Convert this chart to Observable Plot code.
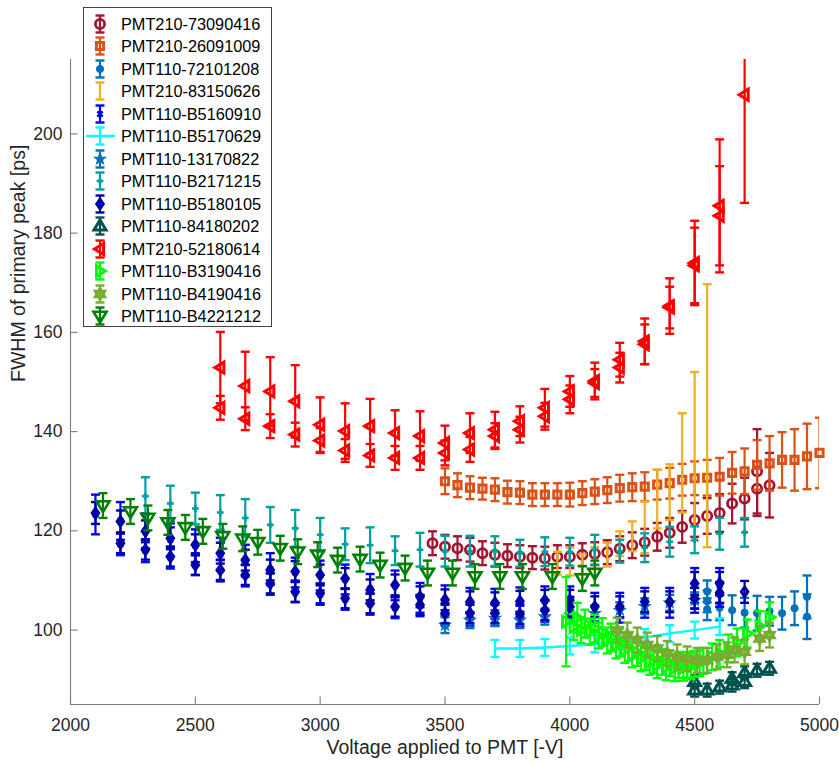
<!DOCTYPE html>
<html><head><meta charset="utf-8">
<script src="https://cdn.jsdelivr.net/npm/d3@7"></script>
<script src="https://cdn.jsdelivr.net/npm/@observablehq/plot@0.6"></script>
<style>
body{margin:0;background:#fff;}
#wrap{position:relative;width:839px;height:765px;font-family:"Liberation Sans",Arial,sans-serif;}
#legend{position:absolute;left:83px;top:7px;width:189px;height:320px;border:1px solid #444;background:#fff;box-sizing:border-box;}
.row{position:absolute;left:0;height:22px;width:187px;}
.row svg{position:absolute;left:0;top:0;}
.row span{position:absolute;left:37px;top:1px;font-size:16.3px;line-height:20px;color:#000;white-space:nowrap;}
</style></head>
<body><div id="wrap"><div id="legend"></div></div>
<script>
// ---------- data ----------
const names = ["PMT210-73090416","PMT210-26091009","PMT110-72101208","PMT210-83150626","PMT110-B5160910","PMT110-B5170629","PMT110-13170822","PMT110-B2171215","PMT110-B5180105","PMT110-84180202","PMT210-52180614","PMT110-B3190416","PMT110-B4190416","PMT110-B4221212"];
const xTicks = [2000,2500,3000,3500,4000,4500,5000];
const yTicks = [100,120,140,160,180,200];

const v_73090416 = [3450,3500,3550,3600,3650,3700,3750,3800,3850,3900,3950,4000,4050,4100,4150,4200,4250,4300,4350,4400,4450,4500,4550,4600,4650,4700,4750,4750,4800];
const y_73090416 = [117.5,116.8,116.5,116.2,115.5,115.2,115.0,114.8,114.6,114.5,114.8,114.8,115.2,115.4,115.7,116.4,117.1,117.7,118.8,119.6,120.8,122.2,123.0,123.6,125.5,126.5,128.5,132.0,129.2];
const e_73090416 = [2.4,2.4,2.4,2.4,2.4,2.4,2.3,2.3,2.3,2.3,2.3,2.3,2.3,2.3,2.4,2.5,2.6,2.7,2.8,3.0,3.2,3.4,3.6,3.8,4.0,4.2,5.5,8.5,6.5];

const v_26091009 = [3500,3550,3600,3650,3700,3750,3800,3850,3900,3950,4000,4050,4100,4150,4200,4250,4300,4350,4400,4450,4500,4550,4600,4650,4700,4750,4800,4850,4900,4950,5000];
const y_26091009 = [130.0,129.2,128.7,128.5,128.3,127.8,127.7,127.3,127.3,127.3,127.3,127.6,127.9,128.2,128.6,128.8,128.9,129.3,129.6,130.3,130.6,130.7,130.9,131.7,132.0,133.3,133.6,134.3,134.3,135.0,135.7];
const e_26091009 = [2.6,2.4,2.3,2.2,2.3,2.3,2.3,2.3,2.3,2.3,2.4,2.4,2.5,2.6,2.7,2.8,2.9,3.0,3.1,3.2,3.4,3.6,3.8,4.2,4.6,5.0,5.5,5.6,6.2,6.6,7.1];

const v_72101208 = [4550,4550,4550,4600,4650,4700,4750,4800,4850,4900,4950,4950];
const y_72101208 = [107.8,105.8,104.2,104.5,104.0,103.5,103.4,103.8,103.4,104.4,106.7,102.7];
const e_72101208 = [2.2,2.2,2.2,2.5,3.0,3.0,3.5,2.9,3.3,3.4,4.3,4.5];

const v_83150626 = [3950,4000,4050,4100,4150,4200,4250,4300,4350,4400,4450,4500,4550];
const y_83150626 = [113.5,113.8,113.3,114.5,115.2,117.4,118.9,120.7,126.4,127.8,133.7,135.0,143.2];
const e_83150626 = [2.3,2.8,2.0,2.2,2.4,2.5,3.0,5.2,5.9,5.6,10.0,17.0,26.5];

const v_B5160910 = [2100,2200,2200,2300,2300,2400,2400,2500,2500,2600,2600,2700,2700,2800,2800,2900,2900,3000,3000,3100,3100,3200,3200,3300,3300,3400,3400,3500,3500,3600,3600,3700,3700,3800,3800,3900,3900,4000,4000,4100,4200,4300,4400,4500,4500,4600,4600];
const y_B5160910 = [123.3,122.0,117.3,120.0,116.0,118.2,114.6,117.0,113.3,115.3,112.0,114.0,111.0,112.3,109.3,111.6,107.8,111.0,107.2,110.2,106.2,108.3,105.2,109.0,104.5,106.5,104.9,106.0,103.0,105.5,103.0,105.3,103.0,105.6,102.8,105.8,103.8,105.8,104.5,104.5,104.5,105.5,105.5,109.0,106.0,109.0,107.2];
const e_B5160910 = [4.0,3.8,2.2,3.5,2.3,3.3,2.2,3.3,2.2,3.3,2.2,3.2,2.2,3.2,2.2,3.0,2.2,3.0,2.1,3.0,2.1,3.0,2.1,3.0,2.1,3.0,2.1,3.0,2.1,3.0,2.1,3.0,2.1,3.0,2.1,3.0,2.1,3.0,2.1,3.0,3.0,3.0,3.0,3.5,2.5,3.5,2.5];

const v_B5170629 = [3700,3800,3900,4000,4100,4200,4300,4400,4500,4600];
const y_B5170629 = [96.3,96.3,96.5,96.8,97.2,97.8,98.5,99.3,100.0,100.7];
const e_B5170629 = [1.7,1.7,1.7,1.7,1.7,1.7,1.7,1.7,1.7,1.7];

const v_13170822 = [3500,3600,3700,3800,3900,4000,4100,4200,4300,4400,4500];
const y_13170822 = [101.0,102.0,102.4,102.0,102.7,103.0,103.4,104.0,104.8,105.5,106.0];
const e_13170822 = [1.6,1.6,1.6,1.6,1.6,1.6,1.6,1.6,1.6,1.6,1.6];

const v_B2171215 = [2300,2400,2500,2600,2700,2800,2900,3000,3100,3200,3300,3400,3500,3600,3700,3800,3900,4000,4100,4200,4300,4400,4500,4600,4700];
const y_B2171215 = [127.0,125.5,124.5,123.7,122.6,121.2,120.5,119.2,117.3,117.1,116.0,116.2,115.9,115.9,115.9,115.5,115.8,115.8,116.2,115.9,116.6,117.8,118.2,119.4,119.7];
const e_B2171215 = [3.8,3.6,3.2,3.5,3.8,3.6,3.7,3.4,3.2,3.6,2.9,3.4,3.1,3.1,3.0,2.7,2.9,2.8,3.0,2.3,2.9,3.0,2.7,3.2,2.9];

const v_B5180105 = [2100,2200,2200,2300,2300,2400,2400,2500,2500,2600,2600,2700,2700,2800,2800,2900,2900,3000,3000,3100,3100,3200,3200,3300,3300,3400,3400,3500,3500,3600,3600,3700,3700,3800,3800,3900,3900,4000,4000,4100,4200,4300,4400,4500,4500,4600,4600,4700];
const y_B5180105 = [123.6,121.9,117.5,119.9,116.2,118.5,114.8,117.2,113.1,115.5,112.1,114.1,111.1,112.1,109.4,111.8,107.7,111.1,107.4,110.4,106.4,108.1,105.4,109.1,104.7,106.7,105.1,106.1,103.4,105.7,103.4,105.5,103.4,105.8,103.2,106.0,104.0,106.0,104.7,104.7,104.7,105.7,105.7,109.4,106.4,109.4,107.5,107.7];
const e_B5180105 = [2.2,2.2,2.0,2.2,2.0,2.2,2.0,2.1,2.0,2.1,2.0,2.1,2.0,2.1,2.0,2.1,2.0,2.1,2.0,2.1,2.0,2.1,2.0,2.1,2.0,2.1,2.0,2.1,2.0,2.1,2.0,2.1,2.0,2.1,2.0,2.1,2.0,2.1,2.0,2.1,2.1,2.1,2.1,2.3,2.1,2.3,2.1,2.2];

const v_84180202 = [4500,4500,4550,4600,4650,4650,4700,4700,4750,4800];
const y_84180202 = [89.6,87.9,87.9,88.5,88.9,90.2,89.6,91.4,91.9,92.3];
const e_84180202 = [1.3,1.3,1.3,1.3,1.3,1.3,1.3,1.3,1.3,1.3];

const v_52180614 = [2600,2600,2700,2700,2800,2800,2900,2900,3000,3000,3100,3100,3200,3200,3300,3300,3400,3400,3500,3500,3600,3600,3700,3700,3800,3800,3900,3900,4000,4000,4100,4100,4200,4200,4300,4300,4400,4400,4500,4500,4600,4600,4700];
const y_52180614 = [152.9,144.8,149.2,142.6,148.1,141.1,146.1,139.4,141.4,138.2,140.1,136.2,141.1,135.2,139.7,134.7,139.1,134.7,137.7,135.7,139.7,136.4,140.4,139.1,142.1,140.4,144.8,143.1,148.1,146.5,150.2,149.8,154.5,152.9,158.2,157.6,165.3,165.0,174.0,173.5,185.5,183.5,207.9];
const e_52180614 = [7.2,2.4,6.9,2.3,6.9,2.4,7.3,2.4,5.5,2.5,5.6,2.3,5.5,2.3,4.6,2.4,5.0,2.4,3.5,2.5,4.0,2.5,3.6,2.6,3.0,2.6,3.8,2.7,3.1,2.8,3.7,2.8,3.4,3.0,4.6,4.0,5.6,4.2,8.5,7.6,13.4,10.0,21.8];

const v_B3190416 = [3985,4030,4060,4100,4130,4165,4200,4235,4270,4300,4335,4370,4400,4435,4470,4500,4535,4570,4600,4635,4670,4710,4760,4800,4015,4045,4080,4115,4150,4185,4220,4250,4285,4320,4350,4385,4420,4455,4485,4520];
const y_B3190416 = [101.7,102.5,101.3,100.3,99.6,98.5,97.5,96.5,95.5,94.7,94.0,93.6,93.3,93.0,93.0,93.2,93.8,94.6,95.3,96.3,97.5,99.3,100.8,102.6,100.6,100.0,99.7,98.9,97.9,96.9,96.0,95.1,94.3,93.6,92.9,92.5,92.3,92.4,92.7,93.3];
const e_B3190416 = [9.0,3.0,2.8,2.8,2.8,2.8,2.8,2.7,2.7,2.7,2.6,2.6,2.6,2.6,2.6,2.6,2.6,2.7,2.7,2.8,2.8,2.8,3.0,3.0,2.6,2.6,2.6,2.6,2.6,2.6,2.6,2.6,2.6,2.6,2.6,2.6,2.6,2.6,2.6,2.6];

const v_B4190416 = [4190,4230,4270,4310,4350,4390,4430,4470,4510,4550,4590,4630,4660,4700,4760,4800];
const y_B4190416 = [100.0,99.0,98.0,97.0,96.3,95.3,94.6,94.2,93.9,93.9,94.6,95.0,96.0,95.6,98.3,99.0];
const e_B4190416 = [2.5,2.5,2.5,2.5,2.5,2.5,2.5,2.5,2.5,2.5,2.5,2.5,2.5,2.5,2.5,2.5];

const v_B4221212 = [2130,2240,2310,2390,2460,2530,2610,2690,2750,2840,2910,2990,3070,3160,3240,3340,3430,3530,3620,3720,3810,3930,4050,4100];
const y_B4221212 = [125.1,123.9,122.6,121.7,120.7,119.9,118.9,118.4,117.7,116.5,115.8,115.2,114.1,114.3,113.1,112.5,111.5,111.5,110.8,110.8,110.8,110.8,110.4,111.5];
const e_B4221212 = [2.5,2.5,2.5,2.5,2.5,2.5,2.5,2.5,2.5,2.5,2.5,2.5,2.5,2.5,2.5,2.5,2.5,2.5,2.5,2.5,2.5,2.5,2.5,2.5];

// ---------- symbols ----------
const rad = s => Math.sqrt(s / Math.PI);
const capSym = {draw(c, s){const r = rad(s); c.moveTo(-r, 0); c.lineTo(r, 0);}};
const circ = {draw(c, s){const r = rad(s); c.moveTo(r, 0); c.arc(0, 0, r, 0, 2 * Math.PI);}};
const sq = {draw(c, s){const r = rad(s); c.rect(-r, -r, 2 * r, 2 * r);}};
const dia = {draw(c, s){const r = rad(s); c.moveTo(0, -r * 1.3); c.lineTo(r * 0.9, 0); c.lineTo(0, r * 1.3); c.lineTo(-r * 0.9, 0); c.closePath();}};
const plusS = {draw(c, s){const r = rad(s); c.moveTo(-r, 0); c.lineTo(r, 0); c.moveTo(0, -r); c.lineTo(0, r);}};
const timesS = {draw(c, s){const r = rad(s) * 0.75; c.moveTo(-r, -r); c.lineTo(r, r); c.moveTo(r, -r); c.lineTo(-r, r);}};
const starS = {draw(c, s){const R = rad(s), ri = R * 0.42; for (let i = 0; i < 10; i++){const a = -Math.PI / 2 + i * Math.PI / 5; const rr = i % 2 ? ri : R; const x = rr * Math.cos(a), y = rr * Math.sin(a); i ? c.lineTo(x, y) : c.moveTo(x, y);} c.closePath();}};
const hexS = {draw(c, s){const r = rad(s); c.moveTo(0, -r); c.lineTo(0.866 * r, 0.5 * r); c.lineTo(-0.866 * r, 0.5 * r); c.closePath(); c.moveTo(0, r); c.lineTo(0.866 * r, -0.5 * r); c.lineTo(-0.866 * r, -0.5 * r); c.closePath();}};
function tri(dir){return {draw(c, s){const r = rad(s), b = r * 0.65;
  if (dir === "l"){c.moveTo(-r, 0); c.lineTo(b, -r); c.lineTo(b, r);}
  else if (dir === "r"){c.moveTo(r, 0); c.lineTo(-b, -r); c.lineTo(-b, r);}
  else if (dir === "u"){c.moveTo(0, -r); c.lineTo(r, b); c.lineTo(-r, b);}
  else {c.moveTo(0, r); c.lineTo(r, -b); c.lineTo(-r, -b);}
  c.closePath();}};}

// ---------- series table ----------
const series = [
  {v: v_73090416, y: y_73090416, e: e_73090416, color: "#A2142F", sym: circ, r: 4.6, fill: "none", sw: 2.8},
  {v: v_26091009, y: y_26091009, e: e_26091009, color: "#D95319", sym: sq, r: 3.6, fill: "none", sw: 3},
  {v: v_72101208, y: y_72101208, e: e_72101208, color: "#0072BD", sym: circ, r: 3.6, fill: "#0072BD", sw: 1},
  {v: v_83150626, y: y_83150626, e: e_83150626, color: "#EDB120", sym: null},
  {v: v_B5160910, y: y_B5160910, e: e_B5160910, color: "#0000FF", sym: timesS, r: 3.6, fill: "none", sw: 2.4},
  {v: v_B5170629, y: y_B5170629, e: e_B5170629, color: "#00FFFF", sym: null, line: true},
  {v: v_13170822, y: y_13170822, e: e_13170822, color: "#0072BD", sym: starS, r: 5.8, fill: "#0072BD", sw: 1.2},
  {v: v_B2171215, y: y_B2171215, e: e_B2171215, color: "#00A0A0", sym: plusS, r: 3.4, fill: "none", sw: 2.6},
  {v: v_B5180105, y: y_B5180105, e: e_B5180105, color: "#0000A8", sym: dia, r: 3.6, fill: "none", sw: 3},
  {v: v_84180202, y: y_84180202, e: e_84180202, color: "#00524E", sym: tri("u"), r: 6, fill: "none", sw: 3},
  {v: v_52180614, y: y_52180614, e: e_52180614, color: "#FF0000", sym: tri("l"), r: 5.5, fill: "none", sw: 3},
  {v: v_B3190416, y: y_B3190416, e: e_B3190416, color: "#00FF00", sym: tri("r"), r: 5.5, fill: "none", sw: 2.8},
  {v: v_B4190416, y: y_B4190416, e: e_B4190416, color: "#77AC30", sym: hexS, r: 5.5, fill: "none", sw: 2.8},
  {v: v_B4221212, y: y_B4221212, e: e_B4221212, color: "#008000", sym: tri("d"), r: 6.5, fill: "none", sw: 2.6}
];

const axisColor = "#262626";
const marks = [];
series.forEach(s => {
  const rows = s.v.map((v, i) => ({v, y: s.y[i], lo: s.y[i] - s.e[i], hi: s.y[i] + s.e[i]}));
  if (s.line) marks.push(Plot.line(rows, {x: "v", y: "y", stroke: s.color, strokeWidth: 2.4}));
  marks.push(Plot.ruleX(rows, {x: "v", y1: "lo", y2: "hi", stroke: s.color, strokeWidth: 2.2, clip: true}));
  marks.push(Plot.dot(rows, {x: "v", y: "lo", symbol: capSym, r: 4.5, stroke: s.color, fill: "none", strokeWidth: 2.4, clip: true}));
  marks.push(Plot.dot(rows, {x: "v", y: "hi", symbol: capSym, r: 4.5, stroke: s.color, fill: "none", strokeWidth: 2.4, clip: true}));
  if (s.sym) marks.push(Plot.dot(rows, {x: "v", y: "y", symbol: s.sym, r: s.r, stroke: s.color, fill: s.fill, strokeWidth: s.sw}));
});

const W = 839, H = 765, mL = 70, mR = 20, mT = 59, mB = 61;
const fw = W - mL - mR, fh = H - mT - mB;

const chart = Plot.plot({
  width: W, height: H,
  marginLeft: mL, marginRight: mR, marginTop: mT, marginBottom: mB,
  style: {fontFamily: '"Liberation Sans", Arial, sans-serif', color: axisColor, background: "white"},
  x: {domain: [2000, 5000]},
  y: {domain: [85, 215]},
  marks: [
    ...marks,
    Plot.ruleX([2000], {stroke: "#7a7a7a", strokeWidth: 1.1}),
    Plot.ruleY([85], {stroke: "#7a7a7a", strokeWidth: 1.1}),
    Plot.tickX(xTicks, {x: d => d, insetTop: fh - 7.5, stroke: "#7a7a7a", strokeWidth: 1.1}),
    Plot.tickY(yTicks, {y: d => d, insetRight: fw - 7.5, stroke: "#7a7a7a", strokeWidth: 1.1}),
    Plot.axisX(xTicks, {tickSize: 0, tickPadding: 14, tickFormat: d => String(d), label: null, fontSize: 17.5}),
    Plot.axisY(yTicks, {tickSize: 0, tickPadding: 8, tickFormat: d => String(d), label: null, fontSize: 17.5}),
    Plot.text(["Voltage applied to PMT [-V]"], {text: d => d, frameAnchor: "bottom", dy: 49, fontSize: 19.5, fill: axisColor}),
    Plot.text(["FWHM of primary peak [ps]"], {text: d => d, frameAnchor: "left", dx: -52, rotate: -90, fontSize: 19.5, fill: axisColor})
  ]
});
document.getElementById("wrap").insertBefore(chart, document.getElementById("legend"));

// ---------- legend ----------
const legend = document.getElementById("legend");
series.forEach((s, i) => {
  const row = document.createElement("div");
  row.className = "row";
  row.style.top = (4.7 + 22.5 * i) + "px";
  const cx = 16, cy = 11;
  let svg = `<svg width="36" height="22" viewBox="0 0 36 22">`;
  if (s.line) svg += `<line x1="2" x2="31" y1="${cy}" y2="${cy}" stroke="${s.color}" stroke-width="2.4"/>`;
  svg += `<line x1="${cx}" x2="${cx}" y1="${cy - 8.5}" y2="${cy + 8.5}" stroke="${s.color}" stroke-width="2.2"/>`;
  svg += `<line x1="${cx - 4.5}" x2="${cx + 4.5}" y1="${cy - 8.5}" y2="${cy - 8.5}" stroke="${s.color}" stroke-width="2.4"/>`;
  svg += `<line x1="${cx - 4.5}" x2="${cx + 4.5}" y1="${cy + 8.5}" y2="${cy + 8.5}" stroke="${s.color}" stroke-width="2.4"/>`;
  if (s.sym) {
    const p = d3.path();
    s.sym.draw(p, s.r * s.r * Math.PI);
    svg += `<path transform="translate(${cx},${cy})" d="${p.toString()}" stroke="${s.color}" fill="${s.fill}" stroke-width="${s.sw}"/>`;
  }
  svg += `</svg>`;
  row.innerHTML = svg + `<span>${names[i]}</span>`;
  legend.appendChild(row);
});
</script></body></html>
